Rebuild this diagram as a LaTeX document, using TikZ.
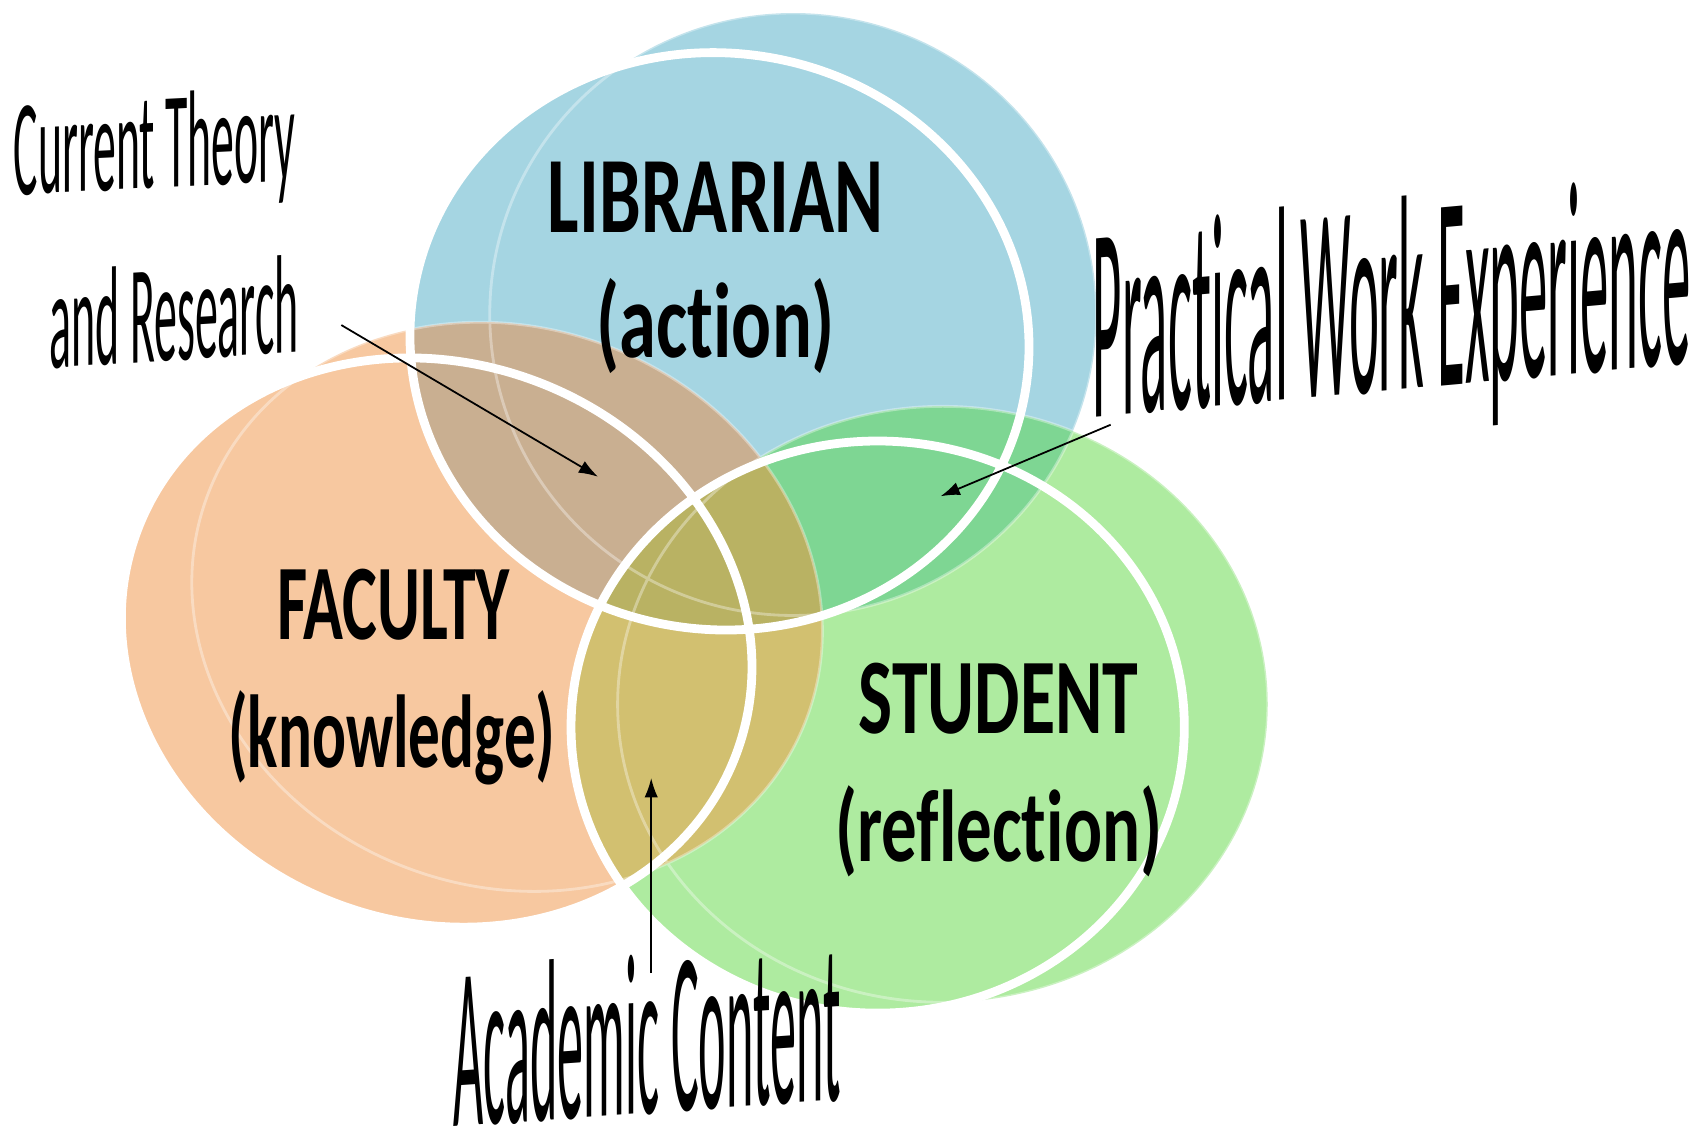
\documentclass[tikz,border=0pt]{standalone}
\usepackage{fontspec}
\setmainfont{Carlito}[Ligatures={NoCommon,NoContextual}]
\usetikzlibrary{arrows.meta}

\newdimen\pxu
\pxu=0.10836mm

\definecolor{libblue}{HTML}{A5D5E2}
\definecolor{facorange}{HTML}{F7C8A0}
\definecolor{stugreen}{HTML}{AEEBA0}
\definecolor{libfac}{HTML}{C9AF91}
\definecolor{libstu}{HTML}{7ED693}
\definecolor{facstu}{HTML}{D2C070}
\definecolor{allthree}{HTML}{B9B263}

% each set is a pair of ellipses: back one and front one
\newcommand{\libback}{(732,290) ellipse [x radius=280, y radius=278]}
\newcommand{\libfront}{(664,315) ellipse [x radius=286, y radius=266, rotate=-8]}
\newcommand{\facback}{(468,560) ellipse [x radius=295, y radius=258, rotate=-20]}
\newcommand{\facfront}{(403,593) ellipse [x radius=295, y radius=258, rotate=-20]}
\newcommand{\stuback}{(870,650) ellipse [x radius=300, y radius=275]}
\newcommand{\stufront}{(810,671) ellipse [x radius=283, y radius=264]}

\tikzset{
  ring/.style={draw=white, line width=2.5pt},
  halo/.style={draw=white, line width=0.8pt, draw opacity=0.35},
  lbl/.style={anchor=base west, inner sep=0pt, transform shape},
  pointer/.style={-{Latex[length=5.5pt, width=3.8pt]}, line width=0.5pt},
}

\begin{document}
\begin{tikzpicture}[x=1\pxu, y=-1\pxu]
\useasboundingbox (0,0) rectangle (1568,1055);

% fills
\fill[libblue] \libback \libfront;
\fill[facorange] \facback \facfront;
\fill[stugreen] \stuback \stufront;

% overlaps
\begin{scope}
  \clip \libback \libfront;
  \fill[libfac] \facback \facfront;
  \fill[libstu] \stuback \stufront;
\end{scope}
\begin{scope}
  \clip \facback \facfront;
  \fill[facstu] \stuback \stufront;
\end{scope}
\begin{scope}
  \clip \libback \libfront;
  \clip \facback \facfront;
  \fill[allthree] \stuback \stufront;
\end{scope}

% outlines
\path[halo] \libback \facback \stuback;
\path[ring] \libfront \facfront \stufront;

% set labels
\node[lbl] (lib) at (505,215) {\resizebox{310\pxu}{65\pxu}{\bfseries LIBRARIAN}};
\node[lbl] (libsub) at (550,330) {\resizebox{220\pxu}{73\pxu}{\bfseries (action)}};
\node[lbl] (fac) at (255,590) {\resizebox{215\pxu}{65\pxu}{\bfseries FACULTY}};
\node[lbl] (facsub) at (210,708) {\resizebox{302\pxu}{71\pxu}{\bfseries (knowledge)}};
\node[lbl] (stu) at (792,677) {\resizebox{258\pxu}{65\pxu}{\bfseries STUDENT}};
\node[lbl] (stusub) at (770,795) {\resizebox{302\pxu}{70\pxu}{\bfseries (reflection)}};

% slanted labels
\begin{scope}[shift={(12,180)}, yslant=0.05]
  \node[lbl] (theory) at (0,0) {\resizebox{260\pxu}{88\pxu}{Current Theory}};
\end{scope}
\begin{scope}[shift={(45,340)}, yslant=0.065]
  \node[lbl] (research) at (0,0) {\resizebox{230\pxu}{90\pxu}{and Research}};
\end{scope}
\begin{scope}[shift={(1008,385)}, yslant=0.09]
  \node[lbl] (practice) at (0,0) {\resizebox{552\pxu}{178\pxu}{Practical Work Experience}};
\end{scope}
\begin{scope}[shift={(418,1040)}, yslant=0.07]
  \node[lbl] (content) at (0,0) {\resizebox{357\pxu}{148\pxu}{Academic Content}};
\end{scope}

% pointers
\coordinate (resfrom) at (315,300);
\coordinate (resto) at (552,440);
\coordinate (pracfrom) at (1025,392);
\coordinate (practo) at (868,458);
\coordinate (contfrom) at (601,898);
\coordinate (contto) at (601,718);
\draw[pointer] (resfrom) -- (resto);
\draw[pointer] (pracfrom) -- (practo);
\draw[pointer] (contfrom) -- (contto);
\end{tikzpicture}
\end{document}
